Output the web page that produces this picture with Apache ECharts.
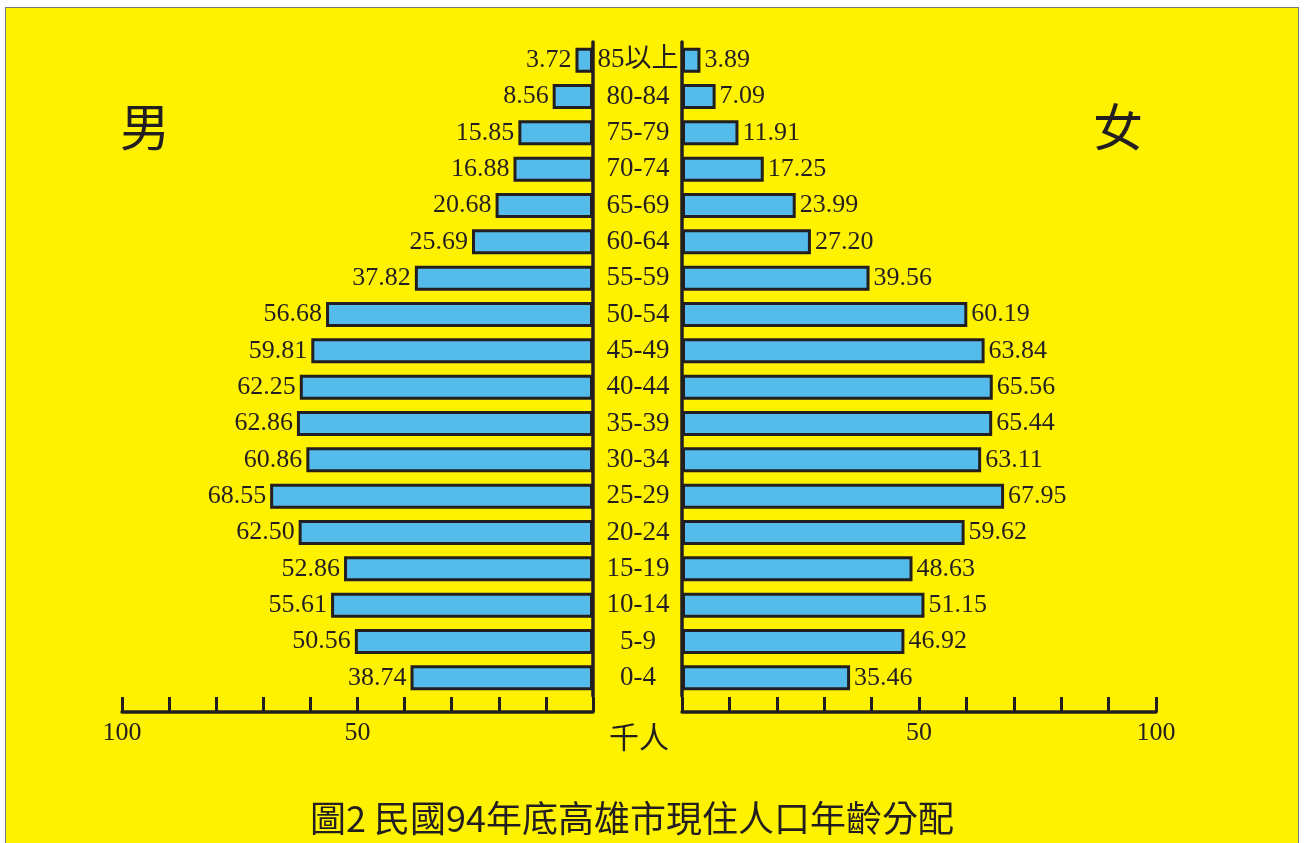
<!DOCTYPE html>
<html>
<head>
<meta charset="utf-8">
<script src="https://cdn.jsdelivr.net/npm/echarts@6/dist/echarts.min.js"></script>
<style>
html,body{margin:0;padding:0;background:#fff;width:1307px;height:843px;overflow:hidden;}
#frame{position:absolute;left:5px;top:7px;width:1294px;height:840px;background:#FFF200;border:1px solid #777;box-sizing:border-box;}
#chart{position:absolute;left:0;top:0;width:1307px;height:843px;}
</style>
</head>
<body>
<div id="frame"></div>
<div id="chart"></div>
<script>
var ageGroups = ['0-4','5-9','10-14','15-19','20-24','25-29','30-34','35-39','40-44','45-49','50-54','55-59','60-64','65-69','70-74','75-79','80-84','85以上'];
var maleValues = [38.74,50.56,55.61,52.86,62.50,68.55,60.86,62.86,62.25,59.81,56.68,37.82,25.69,20.68,16.88,15.85,8.56,3.72];
var femaleValues = [35.46,46.92,51.15,48.63,59.62,67.95,63.11,65.44,65.56,63.84,60.19,39.56,27.20,23.99,17.25,11.91,7.09,3.89];
var tickLabels = [50, 100];

var SERIF = "'Liberation Serif','Noto Sans CJK TC',serif";
var INK = '#231F20';
var chart = echarts.init(document.getElementById('chart'));

function xAxisCfg(idx, inverse){
  return {
    type:'value', gridIndex:idx, inverse:inverse, min:0, max:100, interval:10,
    offset:16,
    axisLine:{show:true, lineStyle:{color:INK, width:3.5}},
    axisTick:{show:true, inside:true, length:15, lineStyle:{color:INK, width:3}},
    splitLine:{show:false},
    axisLabel:{
      margin:8, color:INK, fontFamily:SERIF, fontSize:26,
      formatter:function(v){ return tickLabels.indexOf(v) >= 0 ? String(v) : ''; }
    }
  };
}

chart.setOption({
  backgroundColor:'transparent',
  animation:false,
  title:{
    text:'圖2 民國94年底高雄市現住人口年齡分配',
    left:305, top:795,
    textStyle:{fontFamily:"'Noto Sans CJK TC',sans-serif", fontSize:36, fontWeight:'normal', color:INK}
  },
  grid:[
    {left:122, right:714, top:42, bottom:147},
    {left:682, right:151, top:42, bottom:147}
  ],
  xAxis:[ xAxisCfg(0, true), xAxisCfg(1, false) ],
  yAxis:[
    {type:'category', gridIndex:0, data:ageGroups, position:'right',
     axisLine:{show:true, lineStyle:{color:INK, width:3.5}}, axisTick:{show:false}, axisLabel:{show:false}},
    {type:'category', gridIndex:1, data:ageGroups, position:'left',
     axisLine:{show:true, lineStyle:{color:INK, width:3.5}}, axisTick:{show:false},
     axisLabel:{show:true, align:'center', margin:44, color:INK, fontFamily:SERIF, fontSize:27}}
  ],
  series:[
    {type:'bar', name:'男', xAxisIndex:0, yAxisIndex:0, data:maleValues, barWidth:25,
     itemStyle:{color:'#55BBEA', borderColor:INK, borderWidth:3},
     label:{show:true, position:'left', distance:4, color:INK, fontFamily:SERIF, fontSize:26,
            formatter:function(p){return p.value.toFixed(2);}}},
    {type:'bar', name:'女', xAxisIndex:1, yAxisIndex:1, data:femaleValues, barWidth:25,
     itemStyle:{color:'#55BBEA', borderColor:INK, borderWidth:3},
     label:{show:true, position:'right', distance:4, color:INK, fontFamily:SERIF, fontSize:26,
            formatter:function(p){return p.value.toFixed(2);}}}
  ],
  graphic:[
    {type:'text', left:120, top:102, style:{text:'男', font:"50px 'Noto Sans CJK TC'", fill:INK}},
    {type:'text', left:1093, top:102, style:{text:'女', font:"50px 'Noto Sans CJK TC'", fill:INK}},
    {type:'text', left:609, top:722, style:{text:'千人', font:"30px 'Noto Sans CJK TC'", fill:INK}}
  ]
});
</script>
</body>
</html>
